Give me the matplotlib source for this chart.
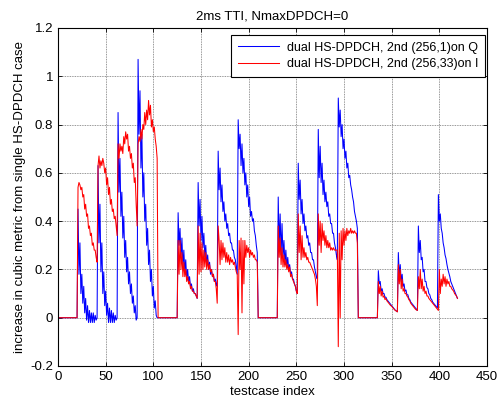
import numpy as np
import matplotlib
matplotlib.use("Agg")
import matplotlib.pyplot as plt

plt.rcParams['font.family'] = ['Liberation Sans', 'DejaVu Sans']

title = "2ms TTI, NmaxDPDCH=0"
xlabel = "testcase index"
ylabel = "increase in cubic metric from single HS-DPDCH case"
legend_labels = ["dual HS-DPDCH, 2nd (256,1)on Q", "dual HS-DPDCH, 2nd (256,33)on I"]
xticks = [0, 50, 100, 150, 200, 250, 300, 350, 400, 450]
yticks = [-0.2, 0, 0.2, 0.4, 0.6, 0.8, 1.0, 1.2]
ytick_labels = ["-0.2", "0", "0.2", "0.4", "0.6", "0.8", "1", "1.2"]

zeros21 = [0.0] * 21

blue_b = [0.45, 0.18, 0.31, 0.10, 0.18, 0.06, 0.13, 0.02, 0.08, -0.01, 0.05, -0.02, 0.03, -0.02, 0.02, -0.02, 0.02, -0.02, 0.01, -0.01, 0.00]
red_b = [0.54, 0.56, 0.55, 0.53, 0.54, 0.50, 0.51, 0.45, 0.47, 0.42, 0.43, 0.37, 0.38, 0.34, 0.35, 0.30, 0.31, 0.28, 0.28, 0.25, 0.23]
blue_c = [0.63, 0.31, 0.47, 0.19, 0.31, 0.10, 0.19, 0.05, 0.11, 0.01, 0.06, -0.02, 0.04, -0.02, 0.03, -0.02, 0.02, -0.02, 0.01, -0.01, 0.00]
red_c = [0.63, 0.67, 0.62, 0.65, 0.63, 0.66, 0.64, 0.60, 0.62, 0.55, 0.58, 0.51, 0.54, 0.47, 0.49, 0.44, 0.45, 0.41, 0.42, 0.38, 0.34]
blue_d = [0.85, 0.52, 0.66, 0.42, 0.52, 0.33, 0.42, 0.25, 0.32, 0.19, 0.25, 0.14, 0.19, 0.10, 0.14, 0.06, 0.09, 0.02, 0.05, -0.01, 0.00]
red_d = [0.72, 0.66, 0.72, 0.69, 0.71, 0.68, 0.75, 0.72, 0.77, 0.74, 0.76, 0.69, 0.71, 0.66, 0.68, 0.62, 0.64, 0.56, 0.58, 0.47, 0.38]
blue_e = [1.07, 0.76, 0.94, 0.62, 0.76, 0.50, 0.60, 0.40, 0.47, 0.30, 0.37, 0.22, 0.28, 0.15, 0.20, 0.09, 0.13, 0.04, 0.07, 0.01, 0.00]
red_e = [0.72, 0.75, 0.73, 0.78, 0.74, 0.80, 0.78, 0.85, 0.80, 0.86, 0.82, 0.90, 0.84, 0.88, 0.79, 0.82, 0.77, 0.79, 0.74, 0.71, 0.66]

blue_g = [0.435, 0.30, 0.37, 0.25, 0.33, 0.21, 0.28, 0.19, 0.24, 0.16, 0.20, 0.15, 0.17, 0.13, 0.14, 0.11, 0.12, 0.10, 0.10, 0.09, 0.08]
red_g = [0.32, 0.18, 0.32, 0.20, 0.27, 0.17, 0.23, 0.17, 0.20, 0.15, 0.17, 0.14, 0.15, 0.12, 0.13, 0.11, 0.11, 0.10, 0.10, 0.09, 0.08]
blue_h = [0.56, 0.38, 0.49, 0.32, 0.42, 0.29, 0.35, 0.25, 0.30, 0.22, 0.26, 0.20, 0.23, 0.18, 0.20, 0.17, 0.18, 0.15, 0.16, 0.14, 0.13]
red_h = [0.38, 0.18, 0.35, 0.19, 0.31, 0.20, 0.28, 0.21, 0.27, 0.20, 0.24, 0.20, 0.22, 0.19, 0.20, 0.17, 0.18, 0.15, 0.15, 0.12, 0.06]
blue_i = [0.69, 0.53, 0.62, 0.48, 0.55, 0.44, 0.48, 0.40, 0.43, 0.37, 0.39, 0.34, 0.35, 0.31, 0.31, 0.28, 0.28, 0.25, 0.24, 0.21, 0.18]
red_i = [0.38, 0.32, 0.22, 0.32, 0.24, 0.31, 0.25, 0.29, 0.23, 0.27, 0.23, 0.26, 0.22, 0.25, 0.23, 0.24, 0.22, 0.23, 0.21, 0.19, 0.18]
blue_j = [0.82, 0.70, 0.76, 0.63, 0.72, 0.60, 0.66, 0.55, 0.60, 0.50, 0.55, 0.46, 0.50, 0.42, 0.44, 0.40, 0.41, 0.36, 0.34, 0.30, 0.27]
red_j = [-0.07, 0.32, 0.20, 0.33, 0.02, 0.32, 0.14, 0.32, 0.25, 0.30, 0.27, 0.29, 0.25, 0.28, 0.26, 0.27, 0.25, 0.26, 0.24, 0.24, 0.23]

blue_l = [0.50, 0.29, 0.43, 0.26, 0.39, 0.25, 0.32, 0.22, 0.28, 0.21, 0.25, 0.20, 0.22, 0.18, 0.19, 0.16, 0.16, 0.14, 0.13, 0.11, 0.10]
red_l = [0.38, 0.25, 0.33, 0.22, 0.29, 0.21, 0.26, 0.21, 0.24, 0.20, 0.22, 0.19, 0.21, 0.17, 0.18, 0.16, 0.15, 0.14, 0.13, 0.11, 0.10]
blue_m = [0.64, 0.49, 0.57, 0.43, 0.49, 0.39, 0.43, 0.36, 0.38, 0.33, 0.34, 0.30, 0.31, 0.27, 0.27, 0.24, 0.24, 0.21, 0.19, 0.17, 0.16]
red_m = [0.43, 0.27, 0.38, 0.24, 0.34, 0.25, 0.29, 0.25, 0.27, 0.24, 0.25, 0.23, 0.23, 0.22, 0.21, 0.20, 0.19, 0.18, 0.16, 0.13, 0.05]
blue_n = [0.78, 0.58, 0.71, 0.56, 0.64, 0.51, 0.57, 0.48, 0.52, 0.46, 0.48, 0.42, 0.43, 0.39, 0.39, 0.35, 0.35, 0.31, 0.29, 0.26, 0.24]
red_n = [0.43, 0.30, 0.40, 0.27, 0.39, 0.32, 0.36, 0.30, 0.34, 0.29, 0.32, 0.29, 0.31, 0.28, 0.29, 0.28, 0.29, 0.28, 0.28, 0.28, 0.28]
blue_o = [0.91, 0.79, 0.86, 0.75, 0.80, 0.70, 0.74, 0.66, 0.69, 0.62, 0.64, 0.58, 0.59, 0.55, 0.53, 0.50, 0.48, 0.44, 0.42, 0.40, 0.37]
red_o = [-0.12, 0.35, 0.00, 0.36, 0.24, 0.37, 0.30, 0.36, 0.32, 0.37, 0.34, 0.36, 0.35, 0.37, 0.35, 0.36, 0.35, 0.36, 0.35, 0.35, 0.31]

blue_q = [0.195, 0.14, 0.15, 0.11, 0.12, 0.10, 0.10, 0.085, 0.085, 0.075, 0.07, 0.065, 0.06, 0.055, 0.05, 0.045, 0.04, 0.035, 0.03, 0.028, 0.025]
red_q = [0.15, 0.10, 0.13, 0.09, 0.11, 0.085, 0.09, 0.075, 0.08, 0.07, 0.065, 0.06, 0.055, 0.05, 0.048, 0.042, 0.038, 0.033, 0.03, 0.027, 0.024]
blue_r = [0.27, 0.17, 0.22, 0.15, 0.18, 0.13, 0.14, 0.11, 0.115, 0.095, 0.095, 0.08, 0.075, 0.065, 0.06, 0.055, 0.05, 0.045, 0.04, 0.035, 0.03]
red_r = [0.22, 0.14, 0.20, 0.12, 0.16, 0.11, 0.12, 0.10, 0.10, 0.09, 0.085, 0.075, 0.07, 0.06, 0.055, 0.05, 0.045, 0.04, 0.035, 0.032, 0.03]
blue_s = [0.38, 0.27, 0.32, 0.24, 0.25, 0.19, 0.20, 0.15, 0.15, 0.125, 0.12, 0.10, 0.095, 0.08, 0.075, 0.065, 0.06, 0.055, 0.05, 0.045, 0.04]
red_s = [0.17, 0.12, 0.20, 0.12, 0.16, 0.11, 0.13, 0.10, 0.11, 0.09, 0.09, 0.08, 0.075, 0.07, 0.065, 0.06, 0.055, 0.05, 0.045, 0.04, 0.035]
blue_t = [0.51, 0.40, 0.43, 0.37, 0.35, 0.31, 0.29, 0.26, 0.245, 0.22, 0.20, 0.185, 0.17, 0.15, 0.14, 0.13, 0.12, 0.11, 0.10, 0.09, 0.08]
red_t = [0.03, 0.20, 0.10, 0.16, 0.13, 0.18, 0.14, 0.17, 0.13, 0.16, 0.14, 0.15, 0.13, 0.13, 0.12, 0.115, 0.11, 0.10, 0.095, 0.09, 0.08]

blue = (zeros21 + blue_b + blue_c + blue_d + blue_e + zeros21 + blue_g + blue_h + blue_i + blue_j
        + zeros21 + blue_l + blue_m + blue_n + blue_o + zeros21 + blue_q + blue_r + blue_s + blue_t)
red = (zeros21 + red_b + red_c + red_d + red_e + zeros21 + red_g + red_h + red_i + red_j
       + zeros21 + red_l + red_m + red_n + red_o + zeros21 + red_q + red_r + red_s + red_t)

x_blue = np.arange(len(blue))
x_red = np.arange(len(red))

fig = plt.figure(figsize=(4.98, 4.04), dpi=100)
ax = fig.add_axes([58 / 498, 38 / 404, 429 / 498, 338 / 404])

ax.plot(x_blue, blue, color='#0000ff', lw=0.75, label=legend_labels[0])
ax.plot(x_red, red, color='#ff0000', lw=0.75, label=legend_labels[1])

ax.set_xlim(0, 450)
ax.set_ylim(-0.2, 1.2)
ax.set_xticks(xticks)
ax.set_xticklabels([str(t) for t in xticks])
ax.set_yticks(yticks)
ax.set_yticklabels(ytick_labels)
ax.tick_params(direction='in', top=True, right=True, length=3, width=0.6,
               labelsize=9.5, colors='black', pad=3.5)
ax.grid(True, color='0.45', linestyle=(0, (1, 1)), linewidth=0.6)
for sp in ax.spines.values():
    sp.set_linewidth(0.8)
    sp.set_color('black')

ax.set_title(title, fontsize=9.5, pad=6)
ax.set_xlabel(xlabel, fontsize=9.5, labelpad=2)
ax.set_ylabel(ylabel, fontsize=9.5, labelpad=3)

leg = ax.legend(loc='upper right', bbox_to_anchor=(0.995, 0.98), fontsize=9,
                frameon=True, fancybox=False, framealpha=1, edgecolor='black',
                handlelength=3.3, borderaxespad=0.0, borderpad=0.55,
                labelspacing=0.38, handletextpad=0.6)
leg.get_frame().set_linewidth(0.8)

fig.savefig('out.png', dpi=100)
